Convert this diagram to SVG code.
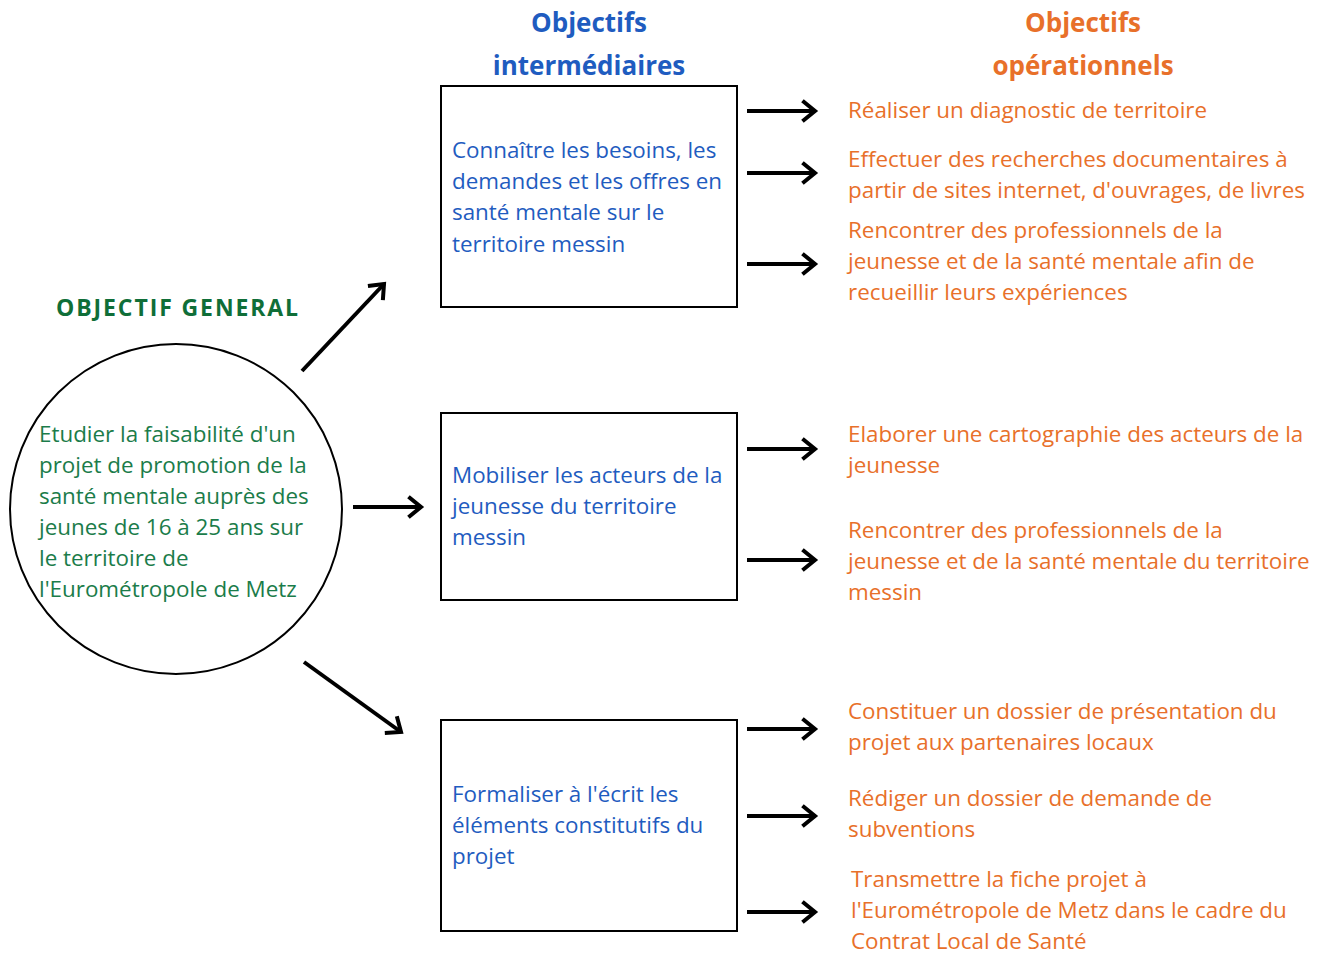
<svg xmlns="http://www.w3.org/2000/svg" width="1330" height="956" viewBox="0 0 1330 956">
<defs>
<marker id="chev" markerUnits="userSpaceOnUse" viewBox="-14 -12 18 24" markerWidth="18" markerHeight="24" refX="0" refY="0" orient="auto" overflow="visible">
<path d="M-11,-9 L0,0 L-11,9" fill="none" stroke="#000" stroke-width="4" stroke-linecap="square" stroke-linejoin="miter"/>
</marker>
<style>
.hd{font-family:"Open Sans","Liberation Sans",sans-serif;font-weight:700;font-size:26px;text-anchor:middle}
.blue{fill:#1f5cc0}
.orange{fill:#e8702a}
.green{fill:#1b7c4a}
.t{font-family:"Open Sans","Liberation Sans",sans-serif;font-size:22.4px}
.box{fill:#fff;stroke:#000;stroke-width:2}
.arr{stroke:#000;stroke-width:4;fill:none;marker-end:url(#chev)}
</style>
</defs>
<rect width="1330" height="956" fill="#fff"/>
<g id="headers">
<text class="hd blue" x="589" y="32">Objectifs</text>
<text class="hd blue" x="589" y="75">intermédiaires</text>
<text class="hd orange" x="1083" y="32">Objectifs</text>
<text class="hd orange" x="1083" y="75">opérationnels</text>
<text x="56" y="316" font-family="'Open Sans','Liberation Sans',sans-serif" font-weight="700" font-size="23" letter-spacing="1.9" fill="#0f6e38">OBJECTIF GENERAL</text>
</g>
<g id="general">
<ellipse cx="176" cy="509" rx="166" ry="165" fill="#fff" stroke="#000" stroke-width="2"/>
<text class="t green" x="39"><tspan x="39" y="442">Etudier la faisabilité d'un</tspan><tspan x="39" y="473">projet de promotion de la</tspan><tspan x="39" y="504">santé mentale auprès des</tspan><tspan x="39" y="535">jeunes de 16 à 25 ans sur</tspan><tspan x="39" y="566">le territoire de</tspan><tspan x="39" y="597">l'Eurométropole de Metz</tspan></text>
</g>
<g id="inter1">
<rect class="box" x="441" y="86" width="296" height="221"/>
<text class="t blue"><tspan x="452" y="158">Connaître les besoins, les</tspan><tspan x="452" y="189">demandes et les offres en</tspan><tspan x="452" y="220">santé mentale sur le</tspan><tspan x="452" y="252">territoire messin</tspan></text>
</g>
<g id="inter2">
<rect class="box" x="441" y="413" width="296" height="187"/>
<text class="t blue"><tspan x="452" y="483">Mobiliser les acteurs de la</tspan><tspan x="452" y="514">jeunesse du territoire</tspan><tspan x="452" y="545">messin</tspan></text>
</g>
<g id="inter3">
<rect class="box" x="441" y="720" width="296" height="211"/>
<text class="t blue"><tspan x="452" y="802">Formaliser à l'écrit les</tspan><tspan x="452" y="833">éléments constitutifs du</tspan><tspan x="452" y="864">projet</tspan></text>
</g>
<g id="op1"><text class="t orange"><tspan x="848" y="118">Réaliser un diagnostic de territoire</tspan></text></g>
<g id="op2"><text class="t orange"><tspan x="848" y="167">Effectuer des recherches documentaires à</tspan><tspan x="848" y="198">partir de sites internet, d'ouvrages, de livres</tspan></text></g>
<g id="op3"><text class="t orange"><tspan x="848" y="238">Rencontrer des professionnels de la</tspan><tspan x="848" y="269">jeunesse et de la santé mentale afin de</tspan><tspan x="848" y="300">recueillir leurs expériences</tspan></text></g>
<g id="op4"><text class="t orange"><tspan x="848" y="442">Elaborer une cartographie des acteurs de la</tspan><tspan x="848" y="473">jeunesse</tspan></text></g>
<g id="op5"><text class="t orange"><tspan x="848" y="538">Rencontrer des professionnels de la</tspan><tspan x="848" y="569">jeunesse et de la santé mentale du territoire</tspan><tspan x="848" y="600">messin</tspan></text></g>
<g id="op6"><text class="t orange"><tspan x="848" y="719">Constituer un dossier de présentation du</tspan><tspan x="848" y="750">projet aux partenaires locaux</tspan></text></g>
<g id="op7"><text class="t orange"><tspan x="848" y="806">Rédiger un dossier de demande de</tspan><tspan x="848" y="837">subventions</tspan></text></g>
<g id="op8"><text class="t orange"><tspan x="851" y="887">Transmettre la fiche projet à</tspan><tspan x="851" y="918">l'Eurométropole de Metz dans le cadre du</tspan><tspan x="851" y="949">Contrat Local de Santé</tspan></text></g>
<g id="connectors">
<line class="arr" x1="302" y1="371" x2="384" y2="284"/>
<line class="arr" x1="353" y1="507" x2="421" y2="507"/>
<line class="arr" x1="304" y1="662" x2="401" y2="732"/>
<line class="arr" x1="747" y1="111" x2="815" y2="111"/>
<line class="arr" x1="747" y1="173" x2="815" y2="173"/>
<line class="arr" x1="747" y1="264" x2="815" y2="264"/>
<line class="arr" x1="747" y1="449" x2="815" y2="449"/>
<line class="arr" x1="747" y1="560" x2="815" y2="560"/>
<line class="arr" x1="747" y1="729" x2="815" y2="729"/>
<line class="arr" x1="747" y1="816" x2="815" y2="816"/>
<line class="arr" x1="747" y1="912" x2="815" y2="912"/>
</g>
</svg>
